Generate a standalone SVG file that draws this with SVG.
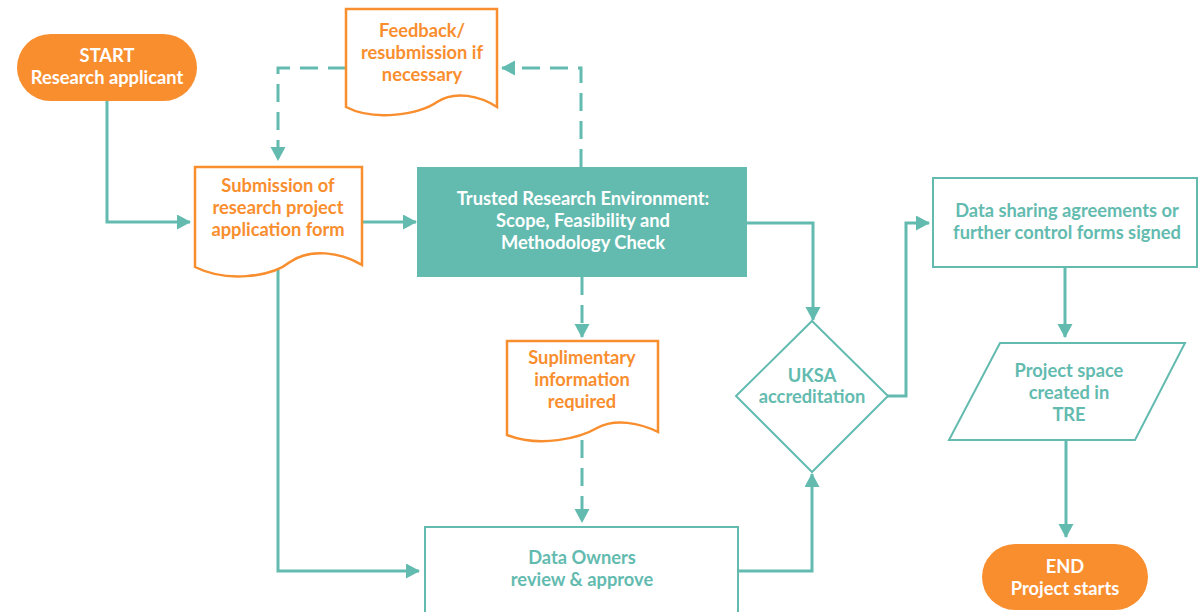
<svg xmlns="http://www.w3.org/2000/svg" width="1202" height="612" viewBox="0 0 1202 612">
<defs>
<style>
text{font-family:Lato,"Open Sans","Liberation Sans",sans-serif;font-weight:700;font-size:18.3px;text-anchor:middle}
.w{fill:#ffffff}
.o{fill:#F98E2F}
.t{fill:#63BBB0}
.doc{fill:#ffffff;stroke:#F98E2F;stroke-width:2.5}
.box{fill:#ffffff;stroke:#63BBB0;stroke-width:2}
.pill{fill:#F98E2F}
.ln{fill:none;stroke:#63BBB0;stroke-width:3;marker-end:url(#ah)}
.dl{fill:none;stroke:#63BBB0;stroke-width:3;stroke-dasharray:18 10;marker-end:url(#ah)}
</style>
<marker id="ah" markerUnits="userSpaceOnUse" markerWidth="16" markerHeight="16" refX="13" refY="7.5" orient="auto">
<path d="M0,0 L14,7.5 L0,15 Z" fill="#63BBB0"/>
</marker>
</defs>
<rect width="1202" height="612" fill="#ffffff"/>
<g id="connectors">
<path class="ln" d="M107,101 V222 H190"/>
<path class="ln" d="M362,222 H416"/>
<path class="dl" d="M581,167 V68 H502"/>
<path class="dl" d="M346,68 H278 V160"/>
<path class="dl" d="M582,277 V337"/>
<path class="dl" d="M582,440 V522"/>
<path class="ln" d="M278,262 V571 H419"/>
<path class="ln" d="M738,571 H812 V474"/>
<path class="ln" d="M747,223 H813 V320"/>
<path class="ln" d="M887,396 H906 V223 H929"/>
<path class="ln" d="M1065,267 V337"/>
<path class="ln" d="M1066,440 V537"/>
</g>
<g id="start">
<rect class="pill" x="17" y="34" width="180" height="67" rx="33.5"/>
<text class="w" x="107" y="62">START</text>
<text class="w" x="107" y="84">Research applicant</text>
</g>
<g id="feedback">
<path class="doc" d="M346,9 H497 V107 C480,96 455,90 437,102 C420,114 375,122 346,107 Z"/>
<text class="o" x="422" y="37">Feedback/</text>
<text class="o" x="422" y="59">resubmission if</text>
<text class="o" x="422" y="81">necessary</text>
</g>
<g id="submission">
<path class="doc" d="M195,167 H362 V265 C340,252 310,248 290,262 C270,278 225,282 195,267 Z"/>
<text class="o" x="278" y="192">Submission of</text>
<text class="o" x="278" y="214">research project</text>
<text class="o" x="278" y="236">application form</text>
</g>
<g id="tre">
<rect x="417" y="167" width="330" height="110" fill="#63BBB0"/>
<text class="w" x="583" y="205">Trusted Research Environment:</text>
<text class="w" x="583" y="227">Scope, Feasibility and</text>
<text class="w" x="583" y="249">Methodology Check</text>
</g>
<g id="supplementary">
<path class="doc" d="M507,341 H658 V432 C640,423 615,418 597,428 C580,438 540,448 507,435 Z"/>
<text class="o" x="582" y="364">Suplimentary</text>
<text class="o" x="582" y="386">information</text>
<text class="o" x="582" y="408">required</text>
</g>
<g id="data-owners">
<rect class="box" x="425" y="527" width="313" height="100"/>
<text class="t" x="582" y="564">Data Owners</text>
<text class="t" x="582" y="586">review &amp; approve</text>
</g>
<g id="uksa">
<path class="box" d="M812,321 L888,396 L812,472 L736,396 Z"/>
<text class="t" x="812" y="382">UKSA</text>
<text class="t" x="812" y="403">accreditation</text>
</g>
<g id="data-sharing">
<rect class="box" x="933" y="178" width="264" height="89"/>
<text class="t" x="1067" y="217">Data sharing agreements or</text>
<text class="t" x="1067" y="239">further control forms signed</text>
</g>
<g id="project-space">
<path class="box" d="M1000,343 H1185 L1135,440 H949 Z"/>
<text class="t" x="1069" y="377">Project space</text>
<text class="t" x="1069" y="399">created in</text>
<text class="t" x="1069" y="421">TRE</text>
</g>
<g id="end">
<rect class="pill" x="982" y="544" width="166" height="66" rx="33"/>
<text class="w" x="1065" y="573">END</text>
<text class="w" x="1065" y="595">Project starts</text>
</g>
</svg>
